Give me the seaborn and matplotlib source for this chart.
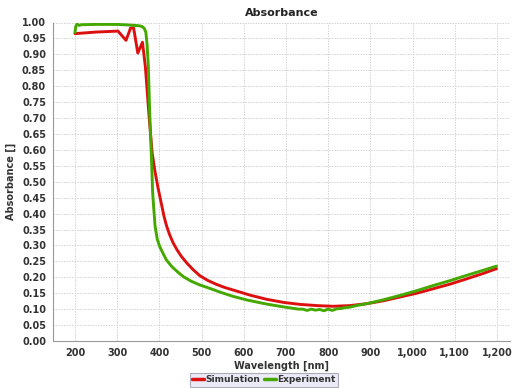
import matplotlib
matplotlib.use("Agg")
import matplotlib.pyplot as plt
import seaborn as sns
import pandas as pd
from matplotlib.ticker import FuncFormatter, MultipleLocator
from matplotlib.lines import Line2D

sim_wl = [200, 250, 302, 321, 332, 339, 349, 360, 367, 376, 383, 390, 397, 405, 411, 417, 424,
          432, 442, 452, 465, 480, 496, 515, 535, 555, 575, 615, 654, 695, 733, 775, 812, 850,
          891, 930, 970, 1010, 1049, 1090, 1128, 1165, 1199]
sim_abs = [0.965, 0.970, 0.973, 0.944, 0.983, 0.983, 0.904, 0.938, 0.860, 0.700, 0.590, 0.530,
           0.480, 0.430, 0.392, 0.362, 0.335, 0.310, 0.286, 0.266, 0.245, 0.224, 0.205, 0.190,
           0.178, 0.168, 0.160, 0.144, 0.131, 0.121, 0.115, 0.111, 0.109, 0.111, 0.117, 0.126,
           0.138, 0.150, 0.164, 0.179, 0.195, 0.211, 0.227]

exp_wl = [200, 202, 205, 210, 215, 250, 300, 330, 350, 358, 364, 368, 371, 374, 377, 380,
          382, 384, 386, 390, 395, 401, 410, 417, 430, 445, 457, 475, 496, 520, 545, 575,
          610, 654, 690, 710, 720, 730, 740, 750, 760, 770, 780, 790, 800, 810, 820, 830,
          840, 850, 870, 891, 930, 970, 1010, 1049, 1090, 1128, 1165, 1199]
exp_abs = [0.968, 0.988, 0.995, 0.991, 0.993, 0.994, 0.994, 0.992, 0.990, 0.988, 0.982, 0.970,
           0.930, 0.860, 0.720, 0.620, 0.550, 0.470, 0.430, 0.360, 0.320, 0.296, 0.272, 0.254,
           0.233, 0.215, 0.202, 0.188, 0.176, 0.165, 0.153, 0.140, 0.128, 0.116, 0.108, 0.104,
           0.102, 0.100, 0.100, 0.096, 0.100, 0.097, 0.099, 0.095, 0.100, 0.096, 0.101, 0.102,
           0.105, 0.106, 0.112, 0.117, 0.129, 0.143, 0.158, 0.174, 0.190, 0.206, 0.221, 0.235]

series_names = ["Simulation", "Experiment"]
x_ticks = [200, 300, 400, 500, 600, 700, 800, 900, 1000, 1100, 1200]

df = pd.concat([
    pd.DataFrame({"Wavelength": sim_wl, "Absorbance": sim_abs, "Series": series_names[0]}),
    pd.DataFrame({"Wavelength": exp_wl, "Absorbance": exp_abs, "Series": series_names[1]}),
])

sns.set_style("white")
plt.rcParams["font.family"] = ["DejaVu Sans"]

fig = plt.figure(figsize=(5.13, 3.88), dpi=100)
ax = fig.add_axes([53 / 513, 47 / 388, 457 / 513, 318.5 / 388])

sns.lineplot(data=df, x="Wavelength", y="Absorbance", hue="Series",
             palette={"Simulation": "#dd1010", "Experiment": "#44a800"},
             linewidth=2.1, ax=ax, legend=False, sort=False, estimator=None)

ax.set_xlim(148, 1231)
ax.set_ylim(0, 1.0)
ax.set_xticks(x_ticks)
ax.xaxis.set_major_formatter(FuncFormatter(lambda v, p: f"{int(v):,}"))
ax.yaxis.set_major_locator(MultipleLocator(0.05))
ax.yaxis.set_major_formatter(FuncFormatter(lambda v, p: f"{v:.2f}"))

ax.grid(True, color="#d4d4d4", linestyle=(0, (1.5, 1.2)), linewidth=0.7)
for s in ["top", "right"]:
    ax.spines[s].set_visible(False)
for s in ["left", "bottom"]:
    ax.spines[s].set_color("#999999")
    ax.spines[s].set_linewidth(0.8)

ax.tick_params(axis="both", length=2, width=0.6, color="#999999",
               labelsize=7, labelcolor="#333333", pad=3)
for lab in ax.get_xticklabels() + ax.get_yticklabels():
    lab.set_fontweight("bold")

ax.set_xlabel("Wavelength [nm]", fontsize=7, fontweight="bold", color="#333333", labelpad=2)
ax.set_ylabel("Absorbance []", fontsize=7, fontweight="bold", color="#333333", labelpad=4)
ax.set_title("Absorbance", fontsize=8, fontweight="bold", color="#222222", pad=5)

handles = [Line2D([0], [0], color="#dd1010", lw=2.5), Line2D([0], [0], color="#44a800", lw=2.5)]
leg = fig.legend(handles, series_names, loc="lower center", bbox_to_anchor=(264 / 513, 0.0),
                 ncol=2, fontsize=6.5, frameon=True, fancybox=False,
                 handlelength=1.3, handletextpad=0.2, columnspacing=0.4,
                 borderpad=0.25, borderaxespad=0.15)
leg.get_frame().set_facecolor("#e6e6f5")
leg.get_frame().set_edgecolor("#9999aa")
leg.get_frame().set_linewidth(0.8)
for t in leg.get_texts():
    t.set_fontweight("bold")
    t.set_color("#333333")

fig.savefig("out.png", dpi=100)
